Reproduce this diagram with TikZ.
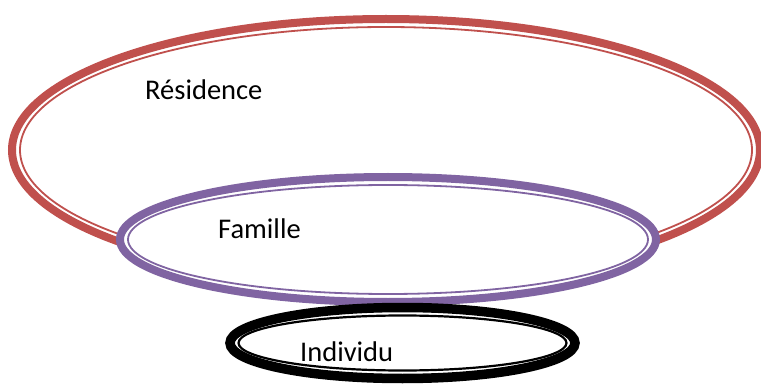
\documentclass[tikz,border=0pt]{standalone}
\usepackage{fontspec}
\setmainfont{Carlito}
\definecolor{ringred}{HTML}{C0504D}
\definecolor{ringpurple}{HTML}{8064A2}
\tikzset{
  outerring/.style={line width=8pt, fill=white},
  innerring/.style={line width=1.8pt},
  ringlabel/.style={font=\fontsize{28.5}{32}\selectfont, inner sep=0pt, anchor=base west},
}

\begin{document}
\begin{tikzpicture}[x=1pt, y=-1pt]
    \useasboundingbox (0,0) rectangle (761,385);
    % Residence
    \draw[outerring, draw=ringred] (386,150) ellipse [x radius=374, y radius=131];
    \draw[innerring, draw=ringred] (386,150) ellipse [x radius=366, y radius=123];
    % Famille
    \draw[outerring, draw=ringpurple] (388,239.5) ellipse [x radius=268, y radius=62.5];
    \draw[innerring, draw=ringpurple] (388,239.5) ellipse [x radius=260, y radius=54.5];
    % Individu
    \draw[outerring, line width=9.5pt, draw=black] (402.5,343) ellipse [x radius=172.5, y radius=35.5];
    \draw[innerring, line width=2.2pt, draw=black] (402.5,343) ellipse [x radius=164, y radius=27.5];
    \node[ringlabel] (residence) at (145,100) {Résidence};
    \node[ringlabel] (famille) at (218,238) {Famille};
    \node[ringlabel] (individu) at (300,361) {Individu};
  \end{tikzpicture}
\end{document}
